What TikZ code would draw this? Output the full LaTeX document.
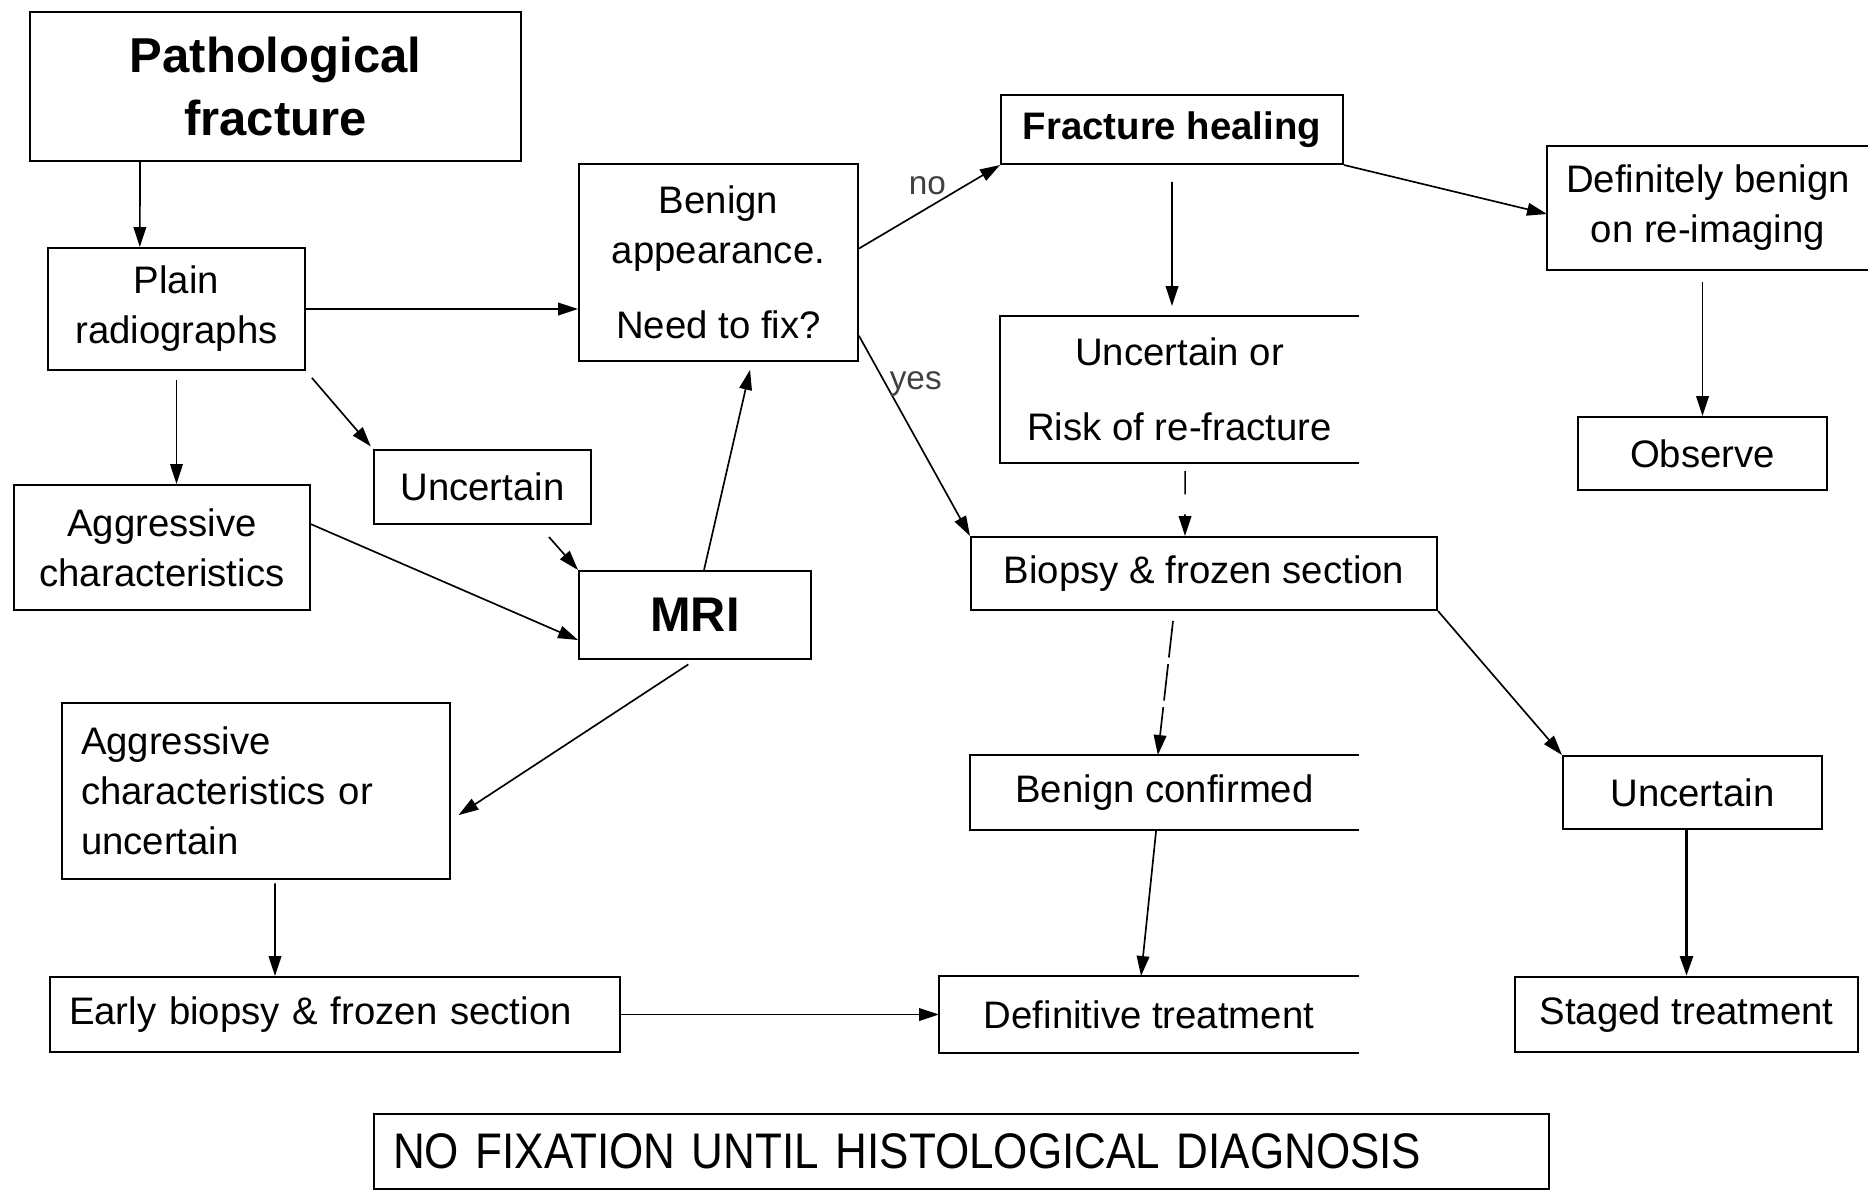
\documentclass[tikz,border=0pt]{standalone}
\usepackage{fontspec}
\setmainfont{Liberation Sans}
\newfontfamily\narrowfont[FakeStretch=0.88]{Liberation Sans}
\usetikzlibrary{arrows.meta}

\tikzset{
  box/.style = {draw, line width=0.6pt, inner sep=0pt, align=center, font=\fontsize{11.5}{15}\selectfont},
  openbox/.style = {box, draw=none},
  leftbox/.style = {box, align=left, inner xsep=5.7pt},
  arr/.style = {-{Triangle[length=6pt,width=3.8pt]}, line width=0.5pt},
  lbl/.style = {font=\fontsize{10}{12}\selectfont, text=black!75, inner sep=1pt}
}

\begin{document}
\begin{tikzpicture}[x=0.3pt, y=-0.3pt]
\useasboundingbox (0,0) rectangle (1868,1192);

% left part
\node [box, minimum width=147.3pt, minimum height=44.7pt, font=\fontsize{14.7}{19}\selectfont\bfseries] (path) at (275.5,86.5) {Pathological\\fracture};
\node [box, minimum width=77.1pt, minimum height=36.6pt] (plain) at (176.5,309) {Plain\\radiographs};
\node [box, minimum width=88.8pt, minimum height=37.5pt] (aggr) at (162,547.5) {Aggressive\\characteristics};
\node [box, minimum width=65.1pt, minimum height=22.2pt] (unc) at (482.5,487) {Uncertain};
\node [box, minimum width=69.6pt, minimum height=26.4pt, font=\fontsize{14.6}{18}\selectfont\bfseries] (mri) at (695,615) {MRI};
\node [leftbox, text width=105pt, minimum height=52.8pt] (aggrunc) at (256,791) {Aggressive\\characteristics or\\uncertain};
\node [leftbox, text width=159.6pt, minimum height=22.5pt] (early) at (335,1014.5) {Early biopsy \& frozen section};

% middle part
\node [box, minimum width=83.7pt, minimum height=59.1pt] (benign) at (718.5,262.5) {Benign\\appearance.\\[7.5pt]Need to fix?};
\node [box, minimum width=102.6pt, minimum height=20.7pt, font=\fontsize{11.5}{15}\selectfont\bfseries] (heal) at (1172,129.5) {Fracture healing};
\node [openbox, minimum width=107.1pt, minimum height=43.5pt] (risk) at (1179.5,389.5) {Uncertain or\\[7.5pt]Risk of re-fracture};
\node [box, minimum width=139.8pt, minimum height=21.9pt] (biopsy) at (1204,573.5) {Biopsy \& frozen section};
\node [openbox, minimum width=116.1pt, minimum height=21.9pt] (bconf) at (1164.5,792.5) {Benign confirmed};
\node [openbox, minimum width=125.4pt, minimum height=22.5pt] (deftr) at (1149,1014.5) {Definitive treatment};

% right part
\node [openbox, minimum width=96pt, minimum height=36.6pt] (defben) at (1708,208) {Definitely benign\\on re-imaging};
\node [box, minimum width=74.7pt, minimum height=21.9pt] (observe) at (1702.5,453.5) {Observe};
\node [box, minimum width=77.7pt, minimum height=21.9pt] (uncr) at (1692.5,792.5) {Uncertain};
\node [box, minimum width=102.9pt, minimum height=22.5pt] (staged) at (1686.5,1014.5) {Staged treatment};

\node [leftbox, text width=341.1pt, minimum height=22.5pt, font=\narrowfont\fontsize{15}{18}\selectfont] (nofix) at (961.5,1151.5) {NO FIXATION UNTIL HISTOLOGICAL DIAGNOSIS};

% boxes cut open on the right
\foreach \b in {risk, bconf, deftr, defben}
  \draw [line width=0.6pt] (\b.north east) -- (\b.north west) -- (\b.south west) -- (\b.south east);

% arrows
\draw [arr] ([xshift=-40.65pt]path.south) -- ([xshift=-11pt]plain.north);
\draw [arr] (plain.east) -- (plain.east -| benign.west);
\draw [arr, shorten <=2.7pt] (plain.south) -- (plain.south |- aggr.north);
\draw [arr, shorten <=2.7pt, shorten >=1pt] (plain.south east) -- (unc.north west);
\draw [arr] ([yshift=7pt]aggr.east) -- ([yshift=-7.5pt]mri.west);
\draw [arr] ([xshift=-12.9pt,yshift=-3.6pt]unc.south east) -- (mri.north west);
\draw [arr, shorten >=2.4pt] ([xshift=2.7pt]mri.north) -- ([xshift=10pt]benign.south);
\draw [arr, shorten <=2.4pt, shorten >=2.7pt] (mri.south) -- ([yshift=-8.7pt]aggrunc.east);
\draw [arr, shorten <=1pt] ([xshift=5.7pt]aggrunc.south) -- ([xshift=-18pt]early.north);
\draw [arr] (early.east) -- (deftr.west);

\draw [arr] ([yshift=4.2pt]benign.east) -- node [lbl, above, pos=0.45, yshift=3.5pt, xshift=1.5pt] {no} (heal.south west);
\draw [arr] ([yshift=-22pt]benign.east) -- node [lbl, right, pos=0.24] {yes} (biopsy.north west);
\draw [arr, shorten <=5pt, shorten >=3pt] (heal.south) -- (heal.south |- risk.north);
\draw [arr, dash pattern=on 7pt off 6pt, shorten <=2.4pt] ([xshift=1.7pt]risk.south) -- ([xshift=-5.7pt]biopsy.north);
\draw [arr, dash pattern=on 11pt off 2pt] ([xshift=-9.3pt,yshift=-3pt]biopsy.south) -- ([xshift=-2pt]bconf.north);
\draw [arr] ([xshift=-2.5pt]bconf.south) -- ([xshift=-2.4pt]deftr.north);
\draw [arr] (biopsy.south east) -- (uncr.north west);
\draw [arr, line width=1.1pt] (uncr.south -| staged.north) -- (staged.north);

\draw [arr] (heal.south east) -- ([yshift=-1.8pt]defben.west);
\draw [arr, shorten <=3.6pt] (defben.south -| observe.north) -- (observe.north);
\end{tikzpicture}
\end{document}
